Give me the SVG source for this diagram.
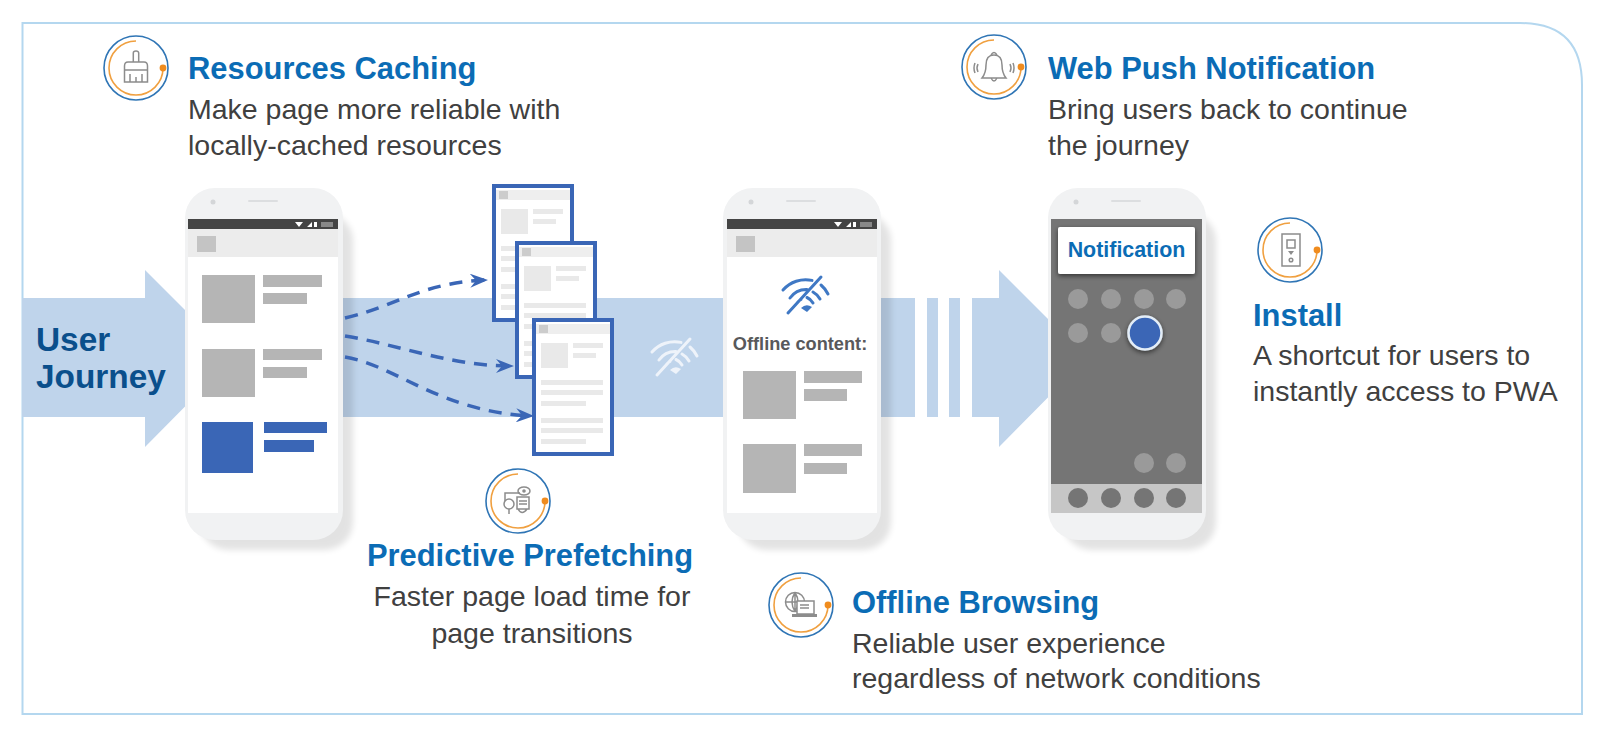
<svg xmlns="http://www.w3.org/2000/svg" xmlns:xlink="http://www.w3.org/1999/xlink" width="1600" height="732" viewBox="0 0 1600 732">
<style>
text{font-family:"Liberation Sans",Arial,sans-serif}
.t{font-size:30.900px;font-weight:700;fill:#0b6cb5}
.b{font-size:28.500px;fill:#404040}
.m{text-anchor:middle}
.band{fill:#bfd4eb}
.g{fill:#b5b5b5}
.bl{fill:#3a66b6}
.ic{fill:none;stroke:#8c8c8c;stroke-width:1.5}
.icf{fill:#8c8c8c}
.dash{fill:none;stroke:#3a66b6;stroke-width:3.500;stroke-dasharray:13 9;marker-end:url(#chev)}
.pl{fill:#e9e9e9}
</style>
<defs>
<filter id="soft" x="-20%" y="-20%" width="140%" height="140%"><feGaussianBlur stdDeviation="3"/></filter>
<filter id="ds" x="-20%" y="-30%" width="140%" height="170%"><feDropShadow dx="0" dy="2" stdDeviation="2.500" flood-color="#000" flood-opacity=".55"/></filter>
<marker id="chev" viewBox="0 0 18 14" refX="16" refY="7" markerWidth="18" markerHeight="14" markerUnits="userSpaceOnUse" orient="auto"><path d="M0 0L18 7L0 14L6 7Z" fill="#3a66b6"/></marker>
<g id="ring">
<circle r="32" fill="#fff" stroke="#2f75b5" stroke-width="1.600"/>
<path d="M0 -27A27 27 0 1 0 27 0" fill="none" stroke="#f0a040" stroke-width="1.600"/>
<circle cx="27" cy="0" r="3.400" fill="#f08c1e"/>
</g>
<g id="wifi" fill="none" stroke="currentColor" stroke-width="3" stroke-linecap="round">
<path d="M-21 -5A30 30 0 0 1 8 -14.600M-14 3A20 20 0 0 1 3 -5.500M-7 8A11 11 0 0 1 -3 4.500M17 -10A28 28 0 0 1 24 -1M9 -3A18 18 0 0 1 16 4M3 2.500A12 12 0 0 1 9 8M17 -18L-16 18"/>
<path d="M-3 13Q2 8 8 12L3 17Z" fill="currentColor" stroke="none"/>
</g>
<g id="phone">
<rect x="15" y="25" width="153" height="337" rx="28" fill="#000" opacity=".11" filter="url(#soft)"/>
<rect x="0" y="0" width="158" height="352" rx="30" fill="#f1f2f3"/>
<circle cx="28" cy="14" r="2.500" fill="#d4d6d8"/>
<rect x="63" y="12" width="30" height="2" rx="1" fill="#dcdee0"/>
</g>
<g id="screen">
<rect x="0" y="0" width="150" height="294" fill="#fff"/>
<rect x="0" y="0" width="150" height="10" fill="#444"/>
<rect x="0" y="10" width="150" height="28" fill="#ececec"/>
<rect x="9" y="17" width="19" height="16" fill="#c4c4c4"/>
<path d="M107 3h8l-4 5zM119 8l5-5v5zM126 3h3v5h-3z" fill="#fff"/>
<rect x="133" y="3" width="12" height="5" fill="#888"/>
</g>
<g id="page">
<rect x="2" y="2" width="78" height="134" fill="#fff" stroke="#3a66b6" stroke-width="4"/>
<rect x="4" y="6" width="74" height="10" fill="#eee"/>
<rect x="7" y="7" width="9" height="8" fill="#ccc"/>
<rect class="pl" x="9" y="25" width="27" height="25"/>
<rect class="pl" x="41" y="25" width="30" height="5"/>
<rect class="pl" x="41" y="35" width="23" height="5"/>
<rect class="pl" x="9" y="62" width="62" height="5"/>
<rect class="pl" x="9" y="72" width="62" height="5"/>
<rect class="pl" x="9" y="83" width="45" height="5"/>
<rect class="pl" x="9" y="100" width="62" height="5"/>
<rect class="pl" x="9" y="110" width="62" height="5"/>
<rect class="pl" x="9" y="121" width="45" height="5"/>
</g>
</defs>

<path id="frame" d="M22.500 23H1520Q1582 23 1582 85V714H22.500Z" fill="#fff" stroke="#b4d7ef" stroke-width="2"/>

<g id="journey-band">
<path class="band" d="M22 298H145V270L233 358L145 447V417H22Z"/>
<rect class="band" x="340" y="298" width="388" height="119"/>
<rect class="band" x="878" y="298" width="37" height="119"/>
<rect class="band" x="927" y="298" width="11" height="119"/>
<rect class="band" x="949" y="298" width="11" height="119"/>
<path class="band" d="M972 298H999V270L1087 358L999 447V417H972Z"/>
<use href="#wifi" x="673" y="357" color="#eef3fa"/>
<text x="36" y="351" font-size="33.400" font-weight="700" fill="#0a4f8c">User</text>
<text x="36" y="388" font-size="33.400" font-weight="700" fill="#0a4f8c">Journey</text>
</g>

<g id="phone-1">
<use href="#phone" x="185" y="188"/>
<use href="#screen" x="188" y="219"/>
<rect class="g" x="202" y="275" width="53" height="48"/>
<rect class="g" x="263" y="275" width="59" height="12"/>
<rect class="g" x="263" y="293" width="44" height="11"/>
<rect class="g" x="202" y="349" width="53" height="48"/>
<rect class="g" x="263" y="349" width="59" height="11"/>
<rect class="g" x="263" y="367" width="44" height="11"/>
<rect class="bl" x="202" y="422" width="51" height="51"/>
<rect class="bl" x="264" y="422" width="63" height="11"/>
<rect class="bl" x="264" y="440" width="50" height="12"/>
</g>

<g id="pages">
<use href="#page" x="492" y="184"/>
<use href="#page" x="515" y="241"/>
<use href="#page" x="532" y="318"/>
</g>

<g id="connectors">
<path class="dash" d="M345 318C400 305 420 283 486 280"/>
<path class="dash" d="M345 336C400 345 450 366 512 366"/>
<path class="dash" d="M345 357C395 365 440 412 532 416"/>
</g>

<g id="phone-2">
<use href="#phone" x="723" y="188"/>
<use href="#screen" x="727" y="219"/>
<use href="#wifi" x="804" y="295" color="#3f78c4"/>
<text x="800" y="350" font-size="18.200" font-weight="700" fill="#58595b" class="m">Offline content:</text>
<rect class="g" x="743" y="371" width="53" height="48"/>
<rect class="g" x="804" y="371" width="58" height="12"/>
<rect class="g" x="804" y="389" width="43" height="12"/>
<rect class="g" x="743" y="444" width="53" height="49"/>
<rect class="g" x="804" y="444" width="58" height="12"/>
<rect class="g" x="804" y="463" width="43" height="11"/>
</g>

<g id="phone-3">
<use href="#phone" x="1048" y="188"/>
<rect x="1051" y="219" width="151" height="294" fill="#757575"/>
<rect x="1051" y="484" width="151" height="29" fill="#c6c6c6"/>
<g fill="#9a9a9a">
<circle cx="1078" cy="299" r="10"/><circle cx="1111" cy="299" r="10"/><circle cx="1144" cy="299" r="10"/><circle cx="1176" cy="299" r="10"/>
<circle cx="1078" cy="333" r="10"/><circle cx="1111" cy="333" r="10"/>
<circle cx="1144" cy="463" r="10"/><circle cx="1176" cy="463" r="10"/>
</g>
<g fill="#757575"><circle cx="1078" cy="498" r="10"/><circle cx="1111" cy="498" r="10"/><circle cx="1144" cy="498" r="10"/><circle cx="1176" cy="498" r="10"/></g>
<circle cx="1145" cy="333" r="16.500" fill="#3a66b6" stroke="#e3edf7" stroke-width="2.500" filter="url(#ds)"/>
<rect x="1058" y="227" width="137" height="47" rx="2" fill="#fff" filter="url(#ds)"/>
<text x="1126.500" y="257" font-size="21.400" font-weight="700" fill="#0b6cb5" class="m">Notification</text>
</g>

<g id="resources-caching">
<use href="#ring" x="136" y="68"/>
<g transform="translate(136 68)">
<path class="ic" d="M-2.700 -6V-15Q-2.700 -17 0 -17T2.700 -15V-6M-11.500 14V-2Q-11.500 -6 -8 -6H8Q11.500 -6 11.500 -2V14ZM-11.500 2H11.500M-6 14V6M0 14V9M6 14V6"/>
</g>
<text class="t" x="188" y="79">Resources Caching</text>
<text class="b" x="188" y="119">Make page more reliable with</text>
<text class="b" x="188" y="155">locally-cached resources</text>
</g>

<g id="web-push">
<use href="#ring" x="994" y="67"/>
<g transform="translate(994 67)">
<path class="ic" d="M-12 11Q-8 6 -8 -2Q-8 -12 0 -12T8 -2Q8 6 12 11ZM-3 -12Q0 -17 3 -12M-3 11Q0 17 3 11M-16 -3Q-18 1 -16 5M-19 -4Q-21 1 -19 6M16 -3Q18 1 16 5M19 -4Q21 1 19 6"/>
</g>
<text class="t" x="1048" y="79">Web Push Notification</text>
<text class="b" x="1048" y="119">Bring users back to continue</text>
<text class="b" x="1048" y="155">the journey</text>
</g>

<g id="install">
<use href="#ring" x="1290" y="250"/>
<g transform="translate(1291 250)">
<path class="ic" d="M-9 -16H9V16H-9ZM-4 -10H4V-2H-4Z"/>
<path class="icf" d="M-3 1H3L0 5Z"/>
<circle class="ic" cx="0" cy="10" r="1.800"/>
</g>
<text class="t" x="1253" y="326">Install</text>
<text class="b" x="1253" y="365">A shortcut for users to</text>
<text class="b" x="1253" y="401">instantly access to PWA</text>
</g>

<g id="predictive">
<use href="#ring" x="518" y="501"/>
<g transform="translate(518 501)">
<path class="ic" d="M-13 0V-8H2M-9 8V13M-1 -4H11V8H-1ZM1 0H9M1 3H9M0 8Q4 15 9 8"/>
<ellipse class="ic" cx="6" cy="-10" rx="6" ry="4"/>
<circle class="icf" cx="6" cy="-10" r="1.800"/>
<circle class="ic" cx="-9" cy="3" r="5"/>
</g>
<text class="t m" x="530" y="566">Predictive Prefetching</text>
<text class="b m" x="532" y="606">Faster page load time for</text>
<text class="b m" x="532" y="643">page transitions</text>
</g>

<g id="offline">
<use href="#ring" x="801" y="605"/>
<g transform="translate(801 605)">
<circle class="ic" cx="-6" cy="-3" r="9.500"/>
<path class="ic" d="M-15.500 -3H3.500M-6 -12.500V6.500M-6 -12.500Q-12 -3 -6 6.500M-6 -12.500Q0 -3 -6 6.500"/>
<rect x="-4" y="-4" width="17" height="13" fill="#fff" stroke="#8c8c8c" stroke-width="1.500"/>
<rect class="icf" x="-9" y="9" width="25" height="3"/>
<path class="ic" d="M-1 0H8M-1 3H8"/>
</g>
<text class="t" x="852" y="613">Offline Browsing</text>
<text class="b" x="852" y="653">Reliable user experience</text>
<text class="b" x="852" y="688">regardless of network conditions</text>
</g>
</svg>
